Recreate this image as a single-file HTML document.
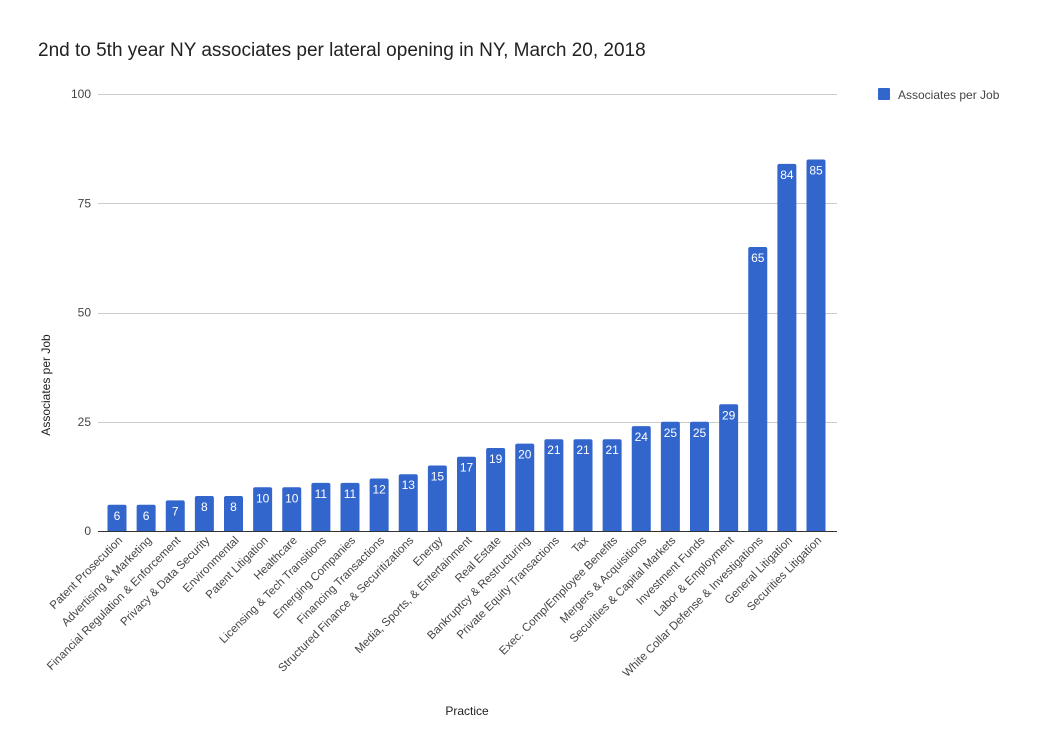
<!DOCTYPE html>
<html><head><meta charset="utf-8"><style>
body{margin:0;background:#fff;}
svg{display:block;font-family:"Liberation Sans",Arial,sans-serif;}
</style></head><body>
<svg id="chart" width="1039" height="756" viewBox="0 0 1039 756">
<rect width="1039" height="756" fill="#fff"/>
<text x="38" y="56" font-size="19" fill="#222">2nd to 5th year NY associates per lateral opening in NY, March 20, 2018</text>
<g id="grid"></g>
<g id="bars"></g>
<g id="xlabels"></g>
<line x1="98" y1="531.5" x2="837" y2="531.5" stroke="#333" stroke-width="1"/>
<text x="467" y="715" font-size="12" fill="#222" text-anchor="middle">Practice</text>
<text transform="translate(50,385) rotate(-90)" font-size="12" fill="#222" text-anchor="middle">Associates per Job</text>
<g>
<rect x="878" y="88" width="12" height="12" rx="1" fill="#3366cc"/>
<text x="898" y="99" font-size="12" fill="#444">Associates per Job</text>
</g>
</svg>
<script>
const categories=["Patent Prosecution","Advertising & Marketing","Financial Regulation & Enforcement","Privacy & Data Security","Environmental","Patent Litigation","Healthcare","Licensing & Tech Transitions","Emerging Companies","Financing Transactions","Structured Finance & Securitizations","Energy","Media, Sports, & Entertainment","Real Estate","Bankruptcy & Restructuring","Private Equity Transactions","Tax","Exec. Comp/Employee Benefits","Mergers & Acquisitions","Securities & Capital Markets","Investment Funds","Labor & Employment","White Collar Defense & Investigations","General Litigation","Securities Litigation"];
const values=[6,6,7,8,8,10,10,11,11,12,13,15,17,19,20,21,21,21,24,25,25,29,65,84,85];
const yTicks=[0,25,50,75,100];
const NS="http://www.w3.org/2000/svg";
const y0=531,y100=94;
function yScale(v){return y0-(v/100)*(y0-y100);}
function xScale(i){return 117+i*29.125;}
const grid=document.getElementById('grid'),bars=document.getElementById('bars'),xl=document.getElementById('xlabels');
yTicks.forEach(t=>{
  const y=Math.round(yScale(t))+0.5;
  if(t>0){const l=document.createElementNS(NS,'line');
  
  
  l.setAttribute('x1',98);l.setAttribute('x2',837);l.setAttribute('y1',y);l.setAttribute('y2',y);
  l.setAttribute('stroke','#ccc');grid.appendChild(l);}
  const tx=document.createElementNS(NS,'text');
  
  
  tx.setAttribute('x',91);tx.setAttribute('y',yScale(t)+4);tx.setAttribute('text-anchor','end');
  tx.setAttribute('font-size','12');tx.setAttribute('fill','#444');tx.textContent=t;grid.appendChild(tx);
});
values.forEach((v,i)=>{
  const cx=xScale(i),top=yScale(v);
  const r=document.createElementNS(NS,'path');
  
  
  const x=cx-9.5,w=19,rr=2;
  r.setAttribute('d',`M${x},${y0} V${top+rr} Q${x},${top} ${x+rr},${top} H${x+w-rr} Q${x+w},${top} ${x+w},${top+rr} V${y0} Z`);
  r.setAttribute('fill','#3366cc');bars.appendChild(r);
  const t=document.createElementNS(NS,'text');
  
  
  t.setAttribute('x',cx);t.setAttribute('y',top+15);t.setAttribute('text-anchor','middle');
  t.setAttribute('font-size','12');t.setAttribute('fill','#fff');t.textContent=v;bars.appendChild(t);
  const lb=document.createElementNS(NS,'text');
  
  
  lb.setAttribute('transform',`translate(${cx+6},${541}) rotate(-45)`);
  lb.setAttribute('text-anchor','end');lb.setAttribute('font-size','11.5');lb.setAttribute('fill','#444');
  lb.textContent=categories[i];xl.appendChild(lb);
});
</script>
</body></html>
